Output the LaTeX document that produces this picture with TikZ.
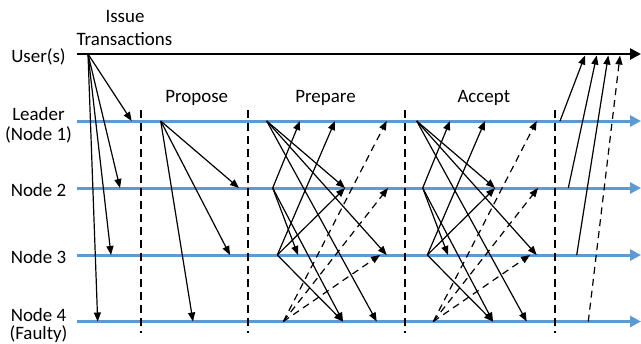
\documentclass[tikz,border=0pt]{standalone}
\usepackage{fontspec}
\setmainfont{Carlito}
\usetikzlibrary{arrows.meta}
\definecolor{lineblue}{RGB}{91,155,213}
\begin{document}
\begin{tikzpicture}[x=1bp,y=-1bp,
  lbl/.style={font=\fontsize{19}{20}\selectfont, inner sep=0pt, align=center},
  timeline/.style={lineblue, line width=3bp, -{Triangle[length=11bp,width=11bp]}},
  userline/.style={black, line width=2.6bp, -{Triangle[length=11bp,width=11bp]}},
  msg/.style={black, line width=1.2bp, -{Triangle[length=9bp,width=7bp]}},
  fmsg/.style={msg, dash pattern=on 7bp off 5bp},
  phasesep/.style={black, line width=1.2bp, dash pattern=on 8bp off 5bp}]
\fill[white] (0,0) rectangle (641,343);
\useasboundingbox (0,0) rectangle (641,343);

% labels
\node[lbl, anchor=base] (issue) at (125,22.7) {Issue};
\node[lbl, anchor=base] (trans) at (124.5,45) {Transactions};
\node[lbl] (luser) at (38.5,57) {User(s)};
\node[lbl] (lleader) at (38.5,125.5) {Leader\\(Node 1)};
\node[lbl] (lnode2) at (38.5,190) {Node 2};
\node[lbl] (lnode3) at (38.5,257) {Node 3};
\node[lbl, font=\fontsize{19}{18}\selectfont, anchor=south] (lnode4) at (38.5,342.6) {Node 4\\(Faulty)};
\node[lbl, anchor=base] (propose) at (196.7,102.7) {Propose};
\node[lbl, anchor=base] (prepare) at (325.5,102.7) {Prepare};
\node[lbl, anchor=base] (accept) at (483.8,102.7) {Accept};

% time lines
\coordinate (us) at (77,54);   \coordinate (ue) at (641,54);
\coordinate (ls) at (77,121);  \coordinate (le) at (641,121);
\coordinate (n2s) at (77,188); \coordinate (n2e) at (641,188);
\coordinate (n3s) at (77,255); \coordinate (n3e) at (641,255);
\coordinate (n4s) at (77,321.5); \coordinate (n4e) at (641,321.5);
\draw[userline] (us) -- (ue);
\draw[timeline] (ls) -- (le);
\draw[timeline] (n2s) -- (n2e);
\draw[timeline] (n3s) -- (n3e);
\draw[timeline] (n4s) -- (n4e);

% phase separators
\foreach \x/\n in {141/a,248/b,405/c,555/d}{
  \coordinate (sep\n t) at (\x,110);
  \coordinate (sep\n b) at (\x,333);
  \draw[phasesep] (sep\n t) -- (sep\n b);
}

% issue transactions
\coordinate (u0) at (88,54);
\coordinate (u1) at (131.7,121);
\coordinate (u2) at (120,188);
\coordinate (u3) at (111,255);
\coordinate (u4) at (97.7,321.5);
\draw[msg] (u0) -- (u1);
\draw[msg] (u0) -- (u2);
\draw[msg] (u0) -- (u3);
\draw[msg] (u0) -- (u4);

% propose
\coordinate (p0) at (160.7,121);
\coordinate (p2) at (239,188);
\coordinate (p3) at (230,255);
\coordinate (p4) at (193,321.5);
\draw[msg] (p0) -- (p2);
\draw[msg] (p0) -- (p3);
\draw[msg] (p0) -- (p4);

% prepare and accept (all-to-all)
\foreach \ph/\d in {q/0, a/150}{
  \coordinate (\ph L)  at (266.7+\d,121);
  \coordinate (\ph N2) at (272.7+\d,188);
  \coordinate (\ph N3) at (277.3+\d,255);
  \coordinate (\ph N4) at (283.3+\d,321.5);
  \coordinate (\ph L2) at (300+\d,121);
  \coordinate (\ph L3) at (335+\d,121);
  \coordinate (\ph L4) at (386.7+\d,121);
  \coordinate (\ph T1) at (345+\d,188);
  \coordinate (\ph T4) at (388+\d,188);
  \coordinate (\ph H2) at (298+\d,255);
  \coordinate (\ph H1) at (386.7+\d,255);
  \coordinate (\ph H4) at (380+\d,255);
  \coordinate (\ph F2) at (343+\d,321.5);
  \coordinate (\ph F1) at (376.7+\d,321.5);
  \draw[msg] (\ph L) -- (\ph T1);
  \draw[msg] (\ph L) -- (\ph H1);
  \draw[msg] (\ph L) -- (\ph F1);
  \draw[msg] (\ph N2) -- (\ph L2);
  \draw[msg] (\ph N2) -- (\ph H2);
  \draw[msg] (\ph N2) -- (\ph F2);
  \draw[msg] (\ph N3) -- (\ph L3);
  \draw[msg] (\ph N3) -- (\ph T1);
  \draw[msg] (\ph N3) -- (\ph F2);
  \draw[fmsg] (\ph N4) -- (\ph L4);
  \draw[fmsg] (\ph N4) -- (\ph T4);
  \draw[fmsg] (\ph N4) -- (\ph H4);
}

% reply
\coordinate (r1) at (560,121);
\coordinate (r2) at (568.3,188);
\coordinate (r3) at (576.7,255);
\coordinate (r4) at (588.3,321.5);
\coordinate (t1) at (585,55.5);
\coordinate (t2) at (596.7,55.5);
\coordinate (t3) at (608.3,55.5);
\coordinate (t4) at (620,55.5);
\draw[msg] (r1) -- (t1);
\draw[msg] (r2) -- (t2);
\draw[msg] (r3) -- (t3);
\draw[fmsg] (r4) -- (t4);
\end{tikzpicture}
\end{document}
